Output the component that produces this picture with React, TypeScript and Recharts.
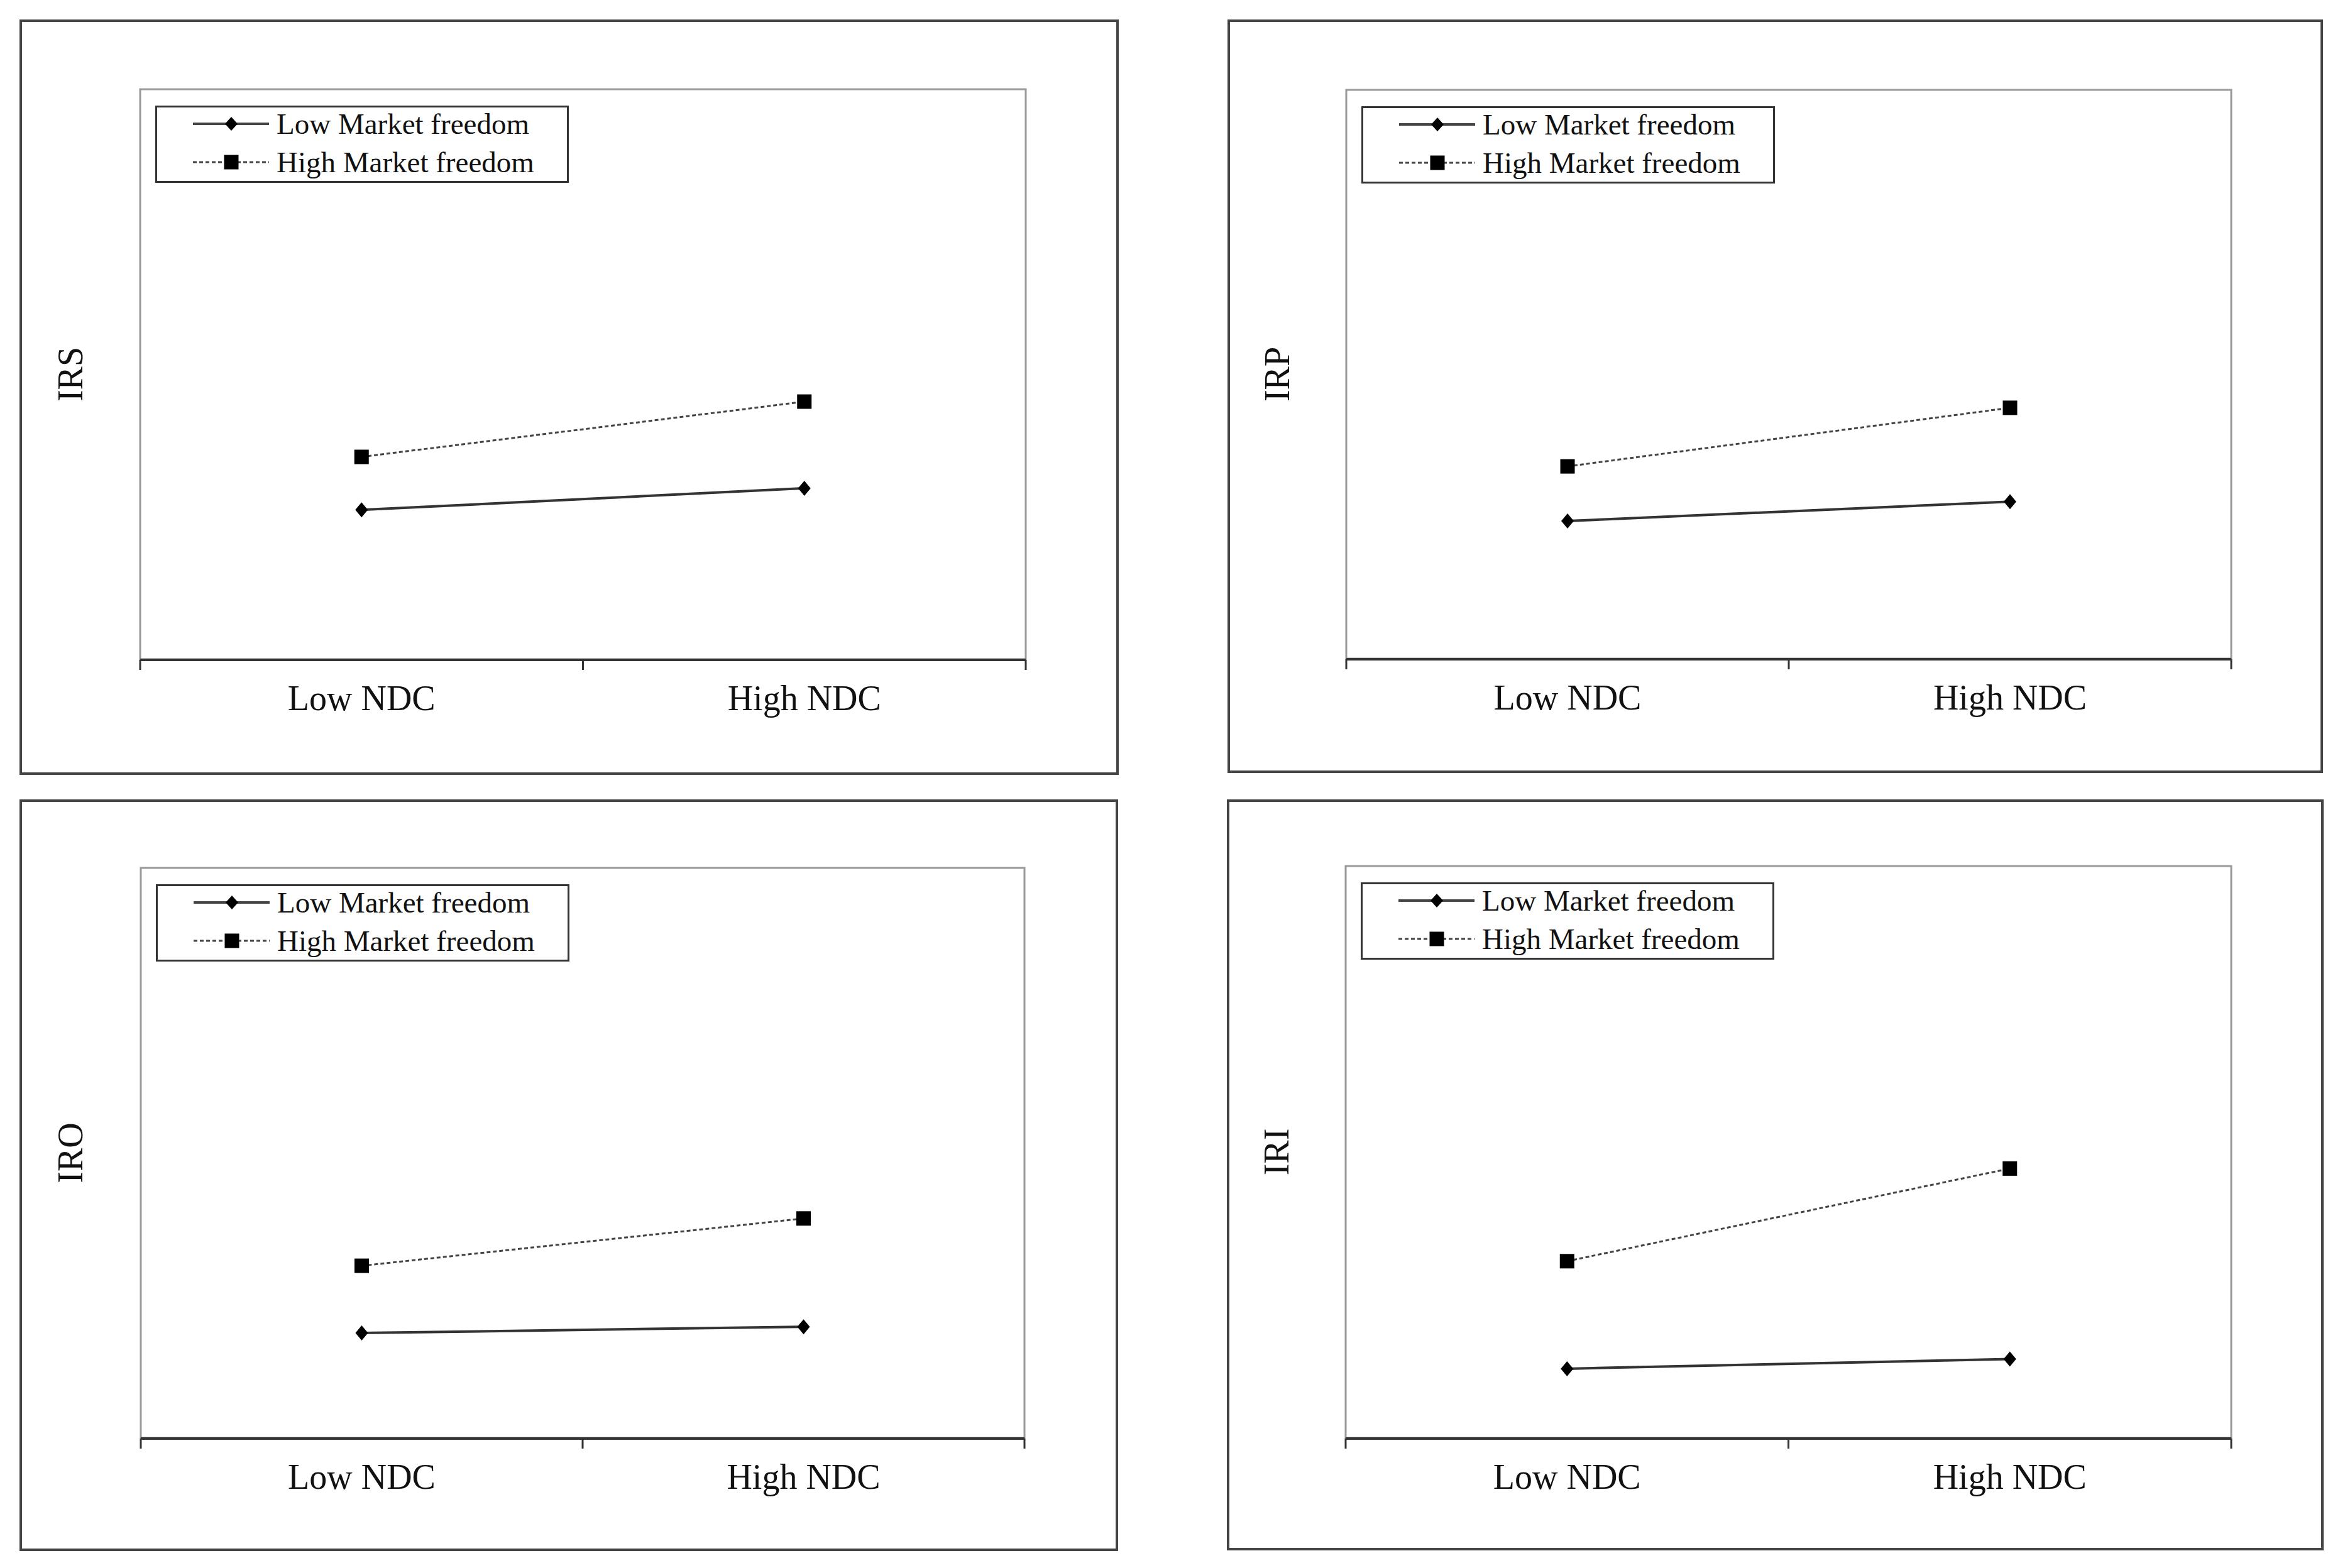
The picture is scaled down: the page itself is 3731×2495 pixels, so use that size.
import React from 'react';
import { LineChart, Line, XAxis, YAxis, ReferenceArea, Legend } from 'recharts';

// categories and series (y scale is unlabelled, so 0-100)
const categories = ['Low NDC', 'High NDC'];
const seriesNames = ['Low Market freedom', 'High Market freedom'];
const yLabels = ['IRS', 'IRP', 'IRO', 'IRI'];

const irsLow = [26.2, 30.0];
const irsHigh = [35.5, 45.2];
const irpLow = [24.2, 27.6];
const irpHigh = [33.8, 44.1];
const iroLow = [18.4, 19.5];
const iroHigh = [30.2, 38.5];
const iriLow = [12.1, 13.8];
const iriHigh = [30.9, 47.1];

const frameTicks = [0, 1, 2];
const yDomain = [0, 100];

const lowSeries = [irsLow, irpLow, iroLow, iriLow];
const highSeries = [irsHigh, irpHigh, iroHigh, iriHigh];

// panel boxes on the page and plot offsets inside each one
const layout = [
  { x: 31, y: 31, w: 1749, h: 1202, m: { left: 192, top: 111, right: 148, bottom: 184 } },
  { x: 1953, y: 31, w: 1743, h: 1199, m: { left: 189, top: 112, right: 146, bottom: 182 } },
  { x: 31, y: 1272, w: 1748, h: 1196, m: { left: 193, top: 109, right: 149, bottom: 180 } },
  { x: 1952, y: 1272, w: 1745, h: 1195, m: { left: 189, top: 106, right: 147, bottom: 179 } },
];

const FONT = "'Liberation Serif', 'Times New Roman', serif";
const CAT_AXIS_HEIGHT = 1;
const FRAME_AXIS_HEIGHT = 100;

const Diamond = (props: any) => {
  const { cx, cy, index } = props;
  if (cx == null || cy == null) return null;
  return (
    <path
      key={`d-${index}`}
      d={`M${cx},${cy - 12} L${cx + 10},${cy} L${cx},${cy + 12} L${cx - 10},${cy} Z`}
      fill="#000"
    />
  );
};

const Square = (props: any) => {
  const { cx, cy, index } = props;
  if (cx == null || cy == null) return null;
  return <rect key={`s-${index}`} x={cx - 11.5} y={cy - 11.5} width={23} height={23} fill="#000" />;
};

const LegendBox = ({ payload }: any) => {
  // keep the series order (Recharts sorts legend items by name)
  const items = [...(payload || [])].sort(
    (a: any, b: any) => seriesNames.indexOf(a.value) - seriesNames.indexOf(b.value)
  );
  return (
    <div
      style={{
        width: 658,
        height: 123,
        border: '3px solid #333',
        boxSizing: 'border-box',
        background: '#fff',
        position: 'relative',
        fontFamily: FONT,
      }}
    >
      {items.map((entry: any, i: number) => {
        const isHigh = entry.dataKey === 'high';
        return (
          <div
            key={entry.value}
            style={{ position: 'absolute', left: 0, top: 1 + 61 * i, height: 50, display: 'flex', alignItems: 'center' }}
          >
            <svg width={190} height={50} style={{ display: 'block' }}>
              <line
                x1={57}
                x2={178}
                y1={25}
                y2={25}
                stroke="#444"
                strokeWidth={isHigh ? 3 : 4}
                strokeDasharray={isHigh ? '6 4' : undefined}
              />
              {isHigh ? (
                <rect x={106.5} y={13.5} width={23} height={23} fill="#000" />
              ) : (
                <path d="M118,14 L128,25 L118,36 L108,25 Z" fill="#000" />
              )}
            </svg>
            <span style={{ fontSize: 47, lineHeight: '50px', color: '#111', whiteSpace: 'nowrap' }}>{entry.value}</span>
          </div>
        );
      })}
    </div>
  );
};

const Panel = ({ index }: { index: number }) => {
  const box = layout[index];
  const low = lowSeries[index];
  const high = highSeries[index];
  const data = categories.map((c, i) => ({ ndc: c, pos: i + 0.5, low: low[i], high: high[i] }));

  return (
    <div style={{ position: 'absolute', left: box.x, top: box.y, width: box.w, height: box.h }}>
      <LineChart
        width={box.w}
        height={box.h}
        data={data}
        margin={{
          top: box.m.top,
          right: box.m.right,
          bottom: box.m.bottom - FRAME_AXIS_HEIGHT - CAT_AXIS_HEIGHT,
          left: 0,
        }}
      >
        {/* category labels sit on a thin axis, the frame axis below it carries the line and ticks */}
        <XAxis
          xAxisId="cat"
          dataKey="ndc"
          type="category"
          scale="band"
          interval={0}
          height={CAT_AXIS_HEIGHT}
          axisLine={false}
          tickLine={false}
          tickSize={0}
          tickMargin={41}
          tick={{ fontSize: 56, fill: '#111', fontFamily: FONT }}
        />
        <XAxis
          xAxisId="frame"
          dataKey="pos"
          type="number"
          domain={[0, 2]}
          ticks={frameTicks}
          allowDataOverflow
          height={FRAME_AXIS_HEIGHT}
          tickFormatter={() => ''}
          tickSize={16}
          axisLine={{ stroke: '#333', strokeWidth: 4 }}
          tickLine={{ stroke: '#333', strokeWidth: 3 }}
        />
        <YAxis
          domain={yDomain}
          width={box.m.left}
          tick={false}
          axisLine={false}
          tickLine={false}
          label={{
            value: yLabels[index],
            angle: -90,
            position: 'center',
            dx: -16,
            style: { fontSize: 56, fill: '#111', fontFamily: FONT },
          }}
        />
        <ReferenceArea
          xAxisId="frame"
          x1={0}
          x2={2}
          y1={yDomain[0]}
          y2={yDomain[1]}
          fill="none"
          stroke="#9a9a9a"
          strokeWidth={3}
        />
        <Legend
          layout="vertical"
          align="center"
          verticalAlign="middle"
          wrapperStyle={{ left: box.m.left + 24, top: box.m.top + 26, width: 658 }}
          content={<LegendBox />}
        />
        <Line
          xAxisId="cat"
          dataKey="low"
          name={seriesNames[0]}
          stroke="#333"
          strokeWidth={4}
          dot={Diamond}
          activeDot={false}
          isAnimationActive={false}
        />
        <Line
          xAxisId="cat"
          dataKey="high"
          name={seriesNames[1]}
          stroke="#444"
          strokeWidth={3}
          strokeDasharray="6 4"
          dot={Square}
          activeDot={false}
          isAnimationActive={false}
        />
      </LineChart>
      <div
        style={{
          position: 'absolute',
          inset: 0,
          border: '4px solid #444',
          boxSizing: 'border-box',
          pointerEvents: 'none',
        }}
      />
    </div>
  );
};

export default function App() {
  return (
    <div style={{ position: 'absolute', left: 0, top: 0, width: 3731, height: 2495, background: '#fff' }}>
      {layout.map((_, i) => (
        <Panel key={i} index={i} />
      ))}
    </div>
  );
}
